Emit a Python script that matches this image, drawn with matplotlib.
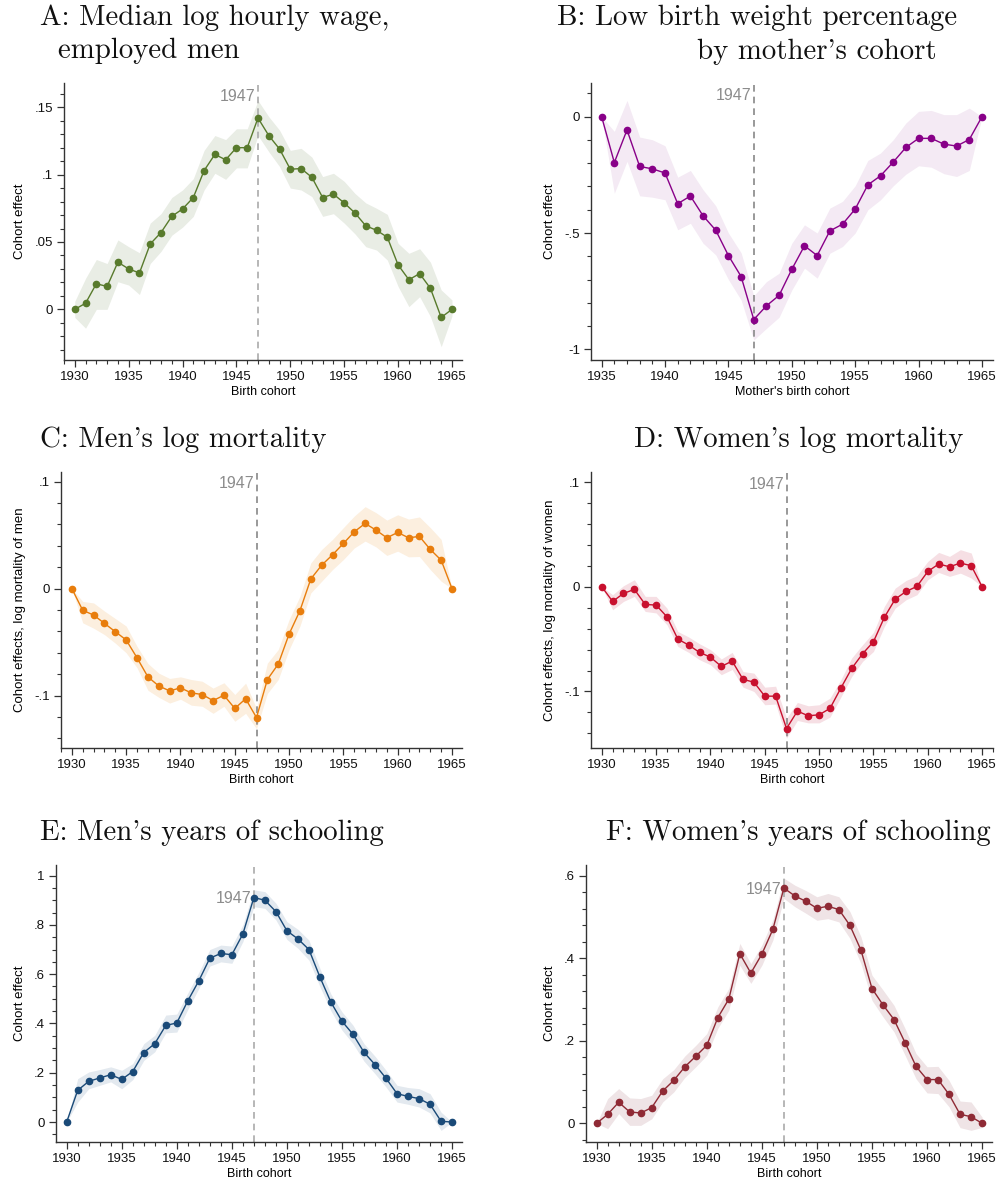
import numpy as np
import matplotlib
matplotlib.use("Agg")
import matplotlib.pyplot as plt
from matplotlib.ticker import FuncFormatter, MultipleLocator

plt.rcParams['font.family'] = ['Liberation Sans', 'DejaVu Sans']

years_30 = np.arange(1930, 1966)
years_35 = np.arange(1935, 1966)

# A: Median log hourly wage
a_est = [0, 0.0045, 0.019, 0.017, 0.035, 0.030, 0.027, 0.0485, 0.057, 0.069, 0.0745, 0.083, 0.103, 0.115, 0.111,
         0.120, 0.120, 0.142, 0.129, 0.119, 0.104, 0.1045, 0.098, 0.083, 0.0855, 0.079, 0.0715, 0.062, 0.0587,
         0.0535, 0.033, 0.022, 0.0265, 0.0156, -0.006, 0]
a_hi = [0.006, 0.023, 0.037, 0.034, 0.0515, 0.0465, 0.042, 0.064, 0.071, 0.083, 0.0886, 0.097, 0.118, 0.129, 0.126,
        0.134, 0.134, 0.155, 0.143, 0.133, 0.118, 0.1195, 0.113, 0.0985, 0.101, 0.095, 0.086, 0.079, 0.075, 0.0705,
        0.049, 0.0416, 0.045, 0.035, 0.0144, 0.007]
a_lo = [-0.006, -0.014, 0.0, 0.0, 0.0205, 0.018, 0.011, 0.034, 0.043, 0.055, 0.061, 0.069, 0.0886, 0.101, 0.0965,
        0.105, 0.105, 0.129, 0.117, 0.106, 0.090, 0.0886, 0.0837, 0.069, 0.071, 0.064, 0.056, 0.0465, 0.044, 0.0366,
        0.017, 0.002, 0.0094, -0.0054, -0.0277, -0.005]

# B: Low birth weight percentage
b_est = [0, -0.197, -0.057, -0.214, -0.224, -0.242, -0.374, -0.341, -0.426, -0.488, -0.597, -0.687, -0.872, -0.813,
         -0.768, -0.656, -0.555, -0.597, -0.491, -0.462, -0.397, -0.293, -0.254, -0.195, -0.132, -0.093, -0.093,
         -0.118, -0.126, -0.098, 0]
b_hi = [0, -0.063, 0.070, -0.0875, -0.099, -0.125, -0.26, -0.231, -0.314, -0.383, -0.50, -0.585, -0.77, -0.709,
        -0.673, -0.544, -0.465, -0.50, -0.393, -0.364, -0.297, -0.188, -0.156, -0.099, -0.027, 0.023, 0.027, 0.009,
        0.009, 0.037, 0]
b_lo = [0, -0.329, -0.192, -0.34, -0.346, -0.357, -0.486, -0.458, -0.544, -0.594, -0.70, -0.788, -0.96, -0.91,
        -0.862, -0.745, -0.651, -0.694, -0.587, -0.558, -0.50, -0.40, -0.357, -0.297, -0.247, -0.211, -0.217,
        -0.245, -0.257, -0.231, 0]

# C: Men's log mortality
c_est = [0, -0.0203, -0.0247, -0.0325, -0.0403, -0.048, -0.0647, -0.0825, -0.091, -0.0956, -0.0928, -0.0975, -0.099,
         -0.1047, -0.0997, -0.112, -0.103, -0.1206, -0.085, -0.0706, -0.0425, -0.0206, 0.009, 0.0219, 0.0316, 0.0422,
         0.0531, 0.0609, 0.0547, 0.0475, 0.0525, 0.0475, 0.0488, 0.0366, 0.0266, 0]
c_hi = [0, -0.012, -0.0134, -0.021, -0.028, -0.035, -0.054, -0.070, -0.079, -0.084, -0.0825, -0.085, -0.0866, -0.093,
        -0.088, -0.099, -0.0884, -0.112, -0.0697, -0.057, -0.029, -0.0072, 0.024, 0.0366, 0.046, 0.057, 0.0678,
        0.0766, 0.071, 0.064, 0.069, 0.065, 0.067, 0.057, 0.046, 0]
c_lo = [0, -0.032, -0.037, -0.043, -0.051, -0.060, -0.074, -0.095, -0.1016, -0.107, -0.1034, -0.109, -0.110, -0.1166,
        -0.110, -0.124, -0.1166, -0.131, -0.098, -0.085, -0.057, -0.035, -0.004, 0.0069, 0.0178, 0.0272, 0.038,
        0.0444, 0.039, 0.031, 0.035, 0.0297, 0.030, 0.0178, 0.0069, 0]

# D: Women's log mortality
d_est = [0, -0.014, -0.0064, -0.0025, -0.0169, -0.0175, -0.0287, -0.050, -0.0557, -0.0627, -0.0672, -0.0761, -0.071,
         -0.0885, -0.0911, -0.1045, -0.1045, -0.1354, -0.1188, -0.1232, -0.1223, -0.1162, -0.0968, -0.078, -0.064,
         -0.0525, -0.0293, -0.0118, -0.0045, 0.0003, 0.0146, 0.0217, 0.0191, 0.0226, 0.0201, 0]
d_hi = [0, -0.0076, 0.001, 0.0067, -0.0092, -0.0092, -0.0204, -0.0427, -0.048, -0.0545, -0.060, -0.069, -0.0627,
        -0.081, -0.0825, -0.0959, -0.095, -0.1255, -0.1105, -0.1137, -0.1127, -0.1064, -0.0889, -0.068, -0.0554,
        -0.0436, -0.0188, -0.0013, 0.006, 0.0105, 0.0242, 0.0328, 0.029, 0.0354, 0.0322, 0]
d_lo = [0, -0.022, -0.014, -0.0092, -0.0236, -0.025, -0.0363, -0.057, -0.0627, -0.0697, -0.0745, -0.084, -0.079,
        -0.0959, -0.100, -0.1127, -0.112, -0.1446, -0.1277, -0.130, -0.130, -0.1245, -0.1054, -0.0857, -0.0713,
        -0.0618, -0.0379, -0.0204, -0.0124, -0.0076, 0.0067, 0.0137, 0.0099, 0.013, 0.0083, 0]

# E: Men's years of schooling
e_est = [0, 0.1287, 0.165, 0.179, 0.192, 0.173, 0.205, 0.282, 0.318, 0.392, 0.402, 0.492, 0.573, 0.665, 0.684, 0.679,
         0.763, 0.911, 0.900, 0.854, 0.776, 0.743, 0.700, 0.588, 0.486, 0.409, 0.356, 0.283, 0.233, 0.1775, 0.115,
         0.104, 0.095, 0.072, 0.003, 0]
e_hi = [0, 0.176, 0.203, 0.213, 0.224, 0.21, 0.237, 0.318, 0.352, 0.434, 0.438, 0.524, 0.607, 0.70, 0.718, 0.714,
        0.80, 0.942, 0.935, 0.888, 0.813, 0.782, 0.738, 0.623, 0.519, 0.447, 0.393, 0.318, 0.267, 0.21, 0.149, 0.14,
        0.1355, 0.115, 0.04, 0]
e_lo = [0, 0.081, 0.135, 0.149, 0.163, 0.135, 0.172, 0.25, 0.285, 0.362, 0.365, 0.457, 0.542, 0.633, 0.65, 0.644,
        0.732, 0.874, 0.867, 0.82, 0.741, 0.705, 0.657, 0.549, 0.451, 0.373, 0.318, 0.247, 0.196, 0.142, 0.081, 0.072,
        0.061, 0.037, -0.034, 0]

# F: Women's years of schooling
f_est = [0, 0.0218, 0.051, 0.0275, 0.025, 0.038, 0.0784, 0.104, 0.1367, 0.1625, 0.189, 0.256, 0.301, 0.411, 0.364,
         0.41, 0.47, 0.570, 0.551, 0.538, 0.521, 0.526, 0.518, 0.4795, 0.4197, 0.3267, 0.287, 0.2515, 0.1957, 0.138,
         0.106, 0.106, 0.070, 0.0218, 0.016, 0]
f_hi = [0, 0.06, 0.084, 0.0615, 0.06, 0.068, 0.108, 0.13, 0.163, 0.189, 0.2175, 0.282, 0.327, 0.436, 0.387, 0.432,
        0.493, 0.594, 0.577, 0.564, 0.549, 0.557, 0.549, 0.513, 0.452, 0.359, 0.323, 0.286, 0.23, 0.169, 0.137,
        0.138, 0.104, 0.054, 0.0517, 0.015]
f_lo = [0, -0.013, 0.0235, -0.005, -0.005, 0.011, 0.052, 0.076, 0.111, 0.137, 0.165, 0.23, 0.274, 0.383, 0.339,
        0.383, 0.444, 0.545, 0.525, 0.509, 0.492, 0.496, 0.488, 0.448, 0.387, 0.298, 0.258, 0.2215, 0.165, 0.108,
        0.0736, 0.072, 0.04, -0.0105, -0.017, -0.01]

W, H = 1000, 1187
fig = plt.figure(figsize=(W / 100, H / 100), dpi=100)


def rect(l, r, t, b):
    return [l / W, 1 - b / H, (r - l) / W, (b - t) / H]


def stata_fmt(v, pos):
    if abs(v) < 1e-9:
        return "0"
    s = ("%g" % round(v, 4))
    s = s.replace("0.", ".")
    return s


panels = [
    dict(r=rect(64, 462, 83, 360), x=years_30, y=a_est, lo=a_lo, hi=a_hi, col='#587a2c', band='#e9ede5',
         xlim=(1929.0, 1965.93), ylim=(-0.0376, 0.168), major=0.05, minor=0.01, ylab='Cohort effect',
         xlab='Birth cohort', lab_y=0.158, vc='#aaaaaa', xticks=range(1930, 1966, 5)),
    dict(r=rect(591, 993, 83, 360), x=years_35, y=b_est, lo=b_lo, hi=b_hi, col='#880088', band='#f4eaf4',
         xlim=(1934.16, 1965.87), ylim=(-1.046, 0.145), major=0.5, minor=0.1, ylab='Cohort effect',
         xlab="Mother's birth cohort", lab_y=0.093, vc='#888888', xticks=range(1935, 1966, 5)),
    dict(r=rect(61, 462, 472, 748), x=years_30, y=c_est, lo=c_lo, hi=c_hi, col='#e87d0c', band='#fcefdf',
         xlim=(1929.0, 1965.92), ylim=(-0.149, 0.109), major=0.1, minor=0.02,
         ylab='Cohort effects, log mortality of men', xlab='Birth cohort', lab_y=0.098, vc='#888888',
         xticks=range(1930, 1966, 5)),
    dict(r=rect(591, 993, 472, 748), x=years_30, y=d_est, lo=d_lo, hi=d_hi, col='#c8102e', band='#f6dfe4',
         xlim=(1929.01, 1966.0), ylim=(-0.154, 0.1096), major=0.1, minor=0.02,
         ylab='Cohort effects, log mortality of women', xlab='Birth cohort', lab_y=0.098, vc='#888888',
         xticks=range(1930, 1966, 5)),
    dict(r=rect(56, 462, 865, 1142), x=years_30, y=e_est, lo=e_lo, hi=e_hi, col='#1a4a78', band='#e3e9ef',
         xlim=(1929.03, 1965.9), ylim=(-0.081, 1.043), major=0.2, minor=0.05, ylab='Cohort effect',
         xlab='Birth cohort', lab_y=0.908, vc='#aaaaaa', xticks=range(1930, 1966, 5)),
    dict(r=rect(586, 992, 865, 1142), x=years_30, y=f_est, lo=f_lo, hi=f_hi, col='#8f2a35', band='#efe4e6',
         xlim=(1929.03, 1965.9), ylim=(-0.0453, 0.626), major=0.2, minor=0.04, ylab='Cohort effect',
         xlab='Birth cohort', lab_y=0.567, vc='#aaaaaa', xticks=range(1930, 1966, 5)),
]

for p in panels:
    ax = fig.add_axes(p['r'])
    ax.fill_between(p['x'], p['lo'], p['hi'], color=p['band'], lw=0, zorder=1)
    ax.axvline(1947, color=p['vc'], ls=(0, (4, 3)), lw=1.2, zorder=2)
    ax.plot(p['x'], p['y'], color=p['col'], lw=1.0, marker='o', ms=4.5, mec=p['col'], mfc=p['col'], zorder=3)
    ax.text(1946.8, p['lab_y'], '1947', color='#8c8c8c', fontsize=11.5, ha='right', va='center', zorder=4)
    ax.set_xlim(*p['xlim'])
    ax.set_ylim(*p['ylim'])
    ax.set_xticks(list(p['xticks']))
    ax.xaxis.set_minor_locator(MultipleLocator(1))
    ax.yaxis.set_major_locator(MultipleLocator(p['major']))
    ax.yaxis.set_minor_locator(MultipleLocator(p['minor']))
    ax.yaxis.set_major_formatter(FuncFormatter(stata_fmt))
    for s in ['top', 'right']:
        ax.spines[s].set_visible(False)
    for s in ['left', 'bottom']:
        ax.spines[s].set_color('#333333')
        ax.spines[s].set_linewidth(1.0)
    ax.tick_params(which='major', length=5, width=0.9, color='#333333', labelsize=9.5, labelcolor='#111111', pad=3)
    ax.tick_params(which='minor', length=3, width=0.8, color='#333333')
    ax.set_xlabel(p['xlab'], fontsize=9, labelpad=2)
    ax.set_ylabel(p['ylab'], fontsize=9.5, labelpad=6)
    ax.set_facecolor('white')

tfont = dict(family=['cmr10', 'DejaVu Serif'], fontsize=20.8, color='#111111', va='center', ha='left')
titles = [
    (40, 18, "A: Median log hourly wage,"),
    (58, 51, "employed men"),
    (557, 18, "B: Low birth weight percentage"),
    (697, 52, "by mother's cohort"),
    (40, 440, "C: Men's log mortality"),
    (634, 440, "D: Women's log mortality"),
    (40, 833, "E: Men's years of schooling"),
    (606, 833, "F: Women's years of schooling"),
]
for x, y, t in titles:
    fig.text(x / W, 1 - y / H, t, **tfont)

fig.savefig('out.png', dpi=100, facecolor='white')
